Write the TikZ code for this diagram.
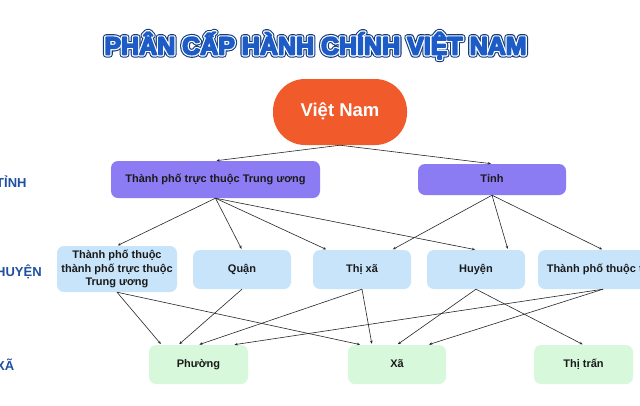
\documentclass[tikz,border=0pt]{standalone}
\usepackage{fontspec}
\setmainfont{Liberation Sans}
\usetikzlibrary{arrows.meta}
\definecolor{vnorange}{HTML}{F15A2B}
\definecolor{vnpurple}{HTML}{8C7CF3}
\definecolor{vnsky}{HTML}{C8E4FA}
\definecolor{vnmint}{HTML}{D8F8DB}
\definecolor{vnblue}{HTML}{1D5CC6}
\definecolor{vnnavy}{HTML}{133C7E}
\definecolor{vnlabel}{HTML}{1F4FA0}
\definecolor{vnink}{HTML}{1A1A1A}
% text with a stroked outline (render mode 2)
\newcommand\outlined[3]{\special{pdf:literal direct #1 w 1 j #2 RG 2 Tr}#3\special{pdf:literal direct 0 Tr}}
\newcommand\titletext{PHÂN CẤP HÀNH CHÍNH VIỆT NAM}

\begin{document}
\begin{tikzpicture}[x=1pt,y=-1pt,>={Stealth[length=3.2pt,width=2.6pt]}]
  \tikzset{
    box/.style={rectangle,rounded corners=7pt,inner sep=0pt,text=vnink,
      font=\bfseries\fontsize{11}{13.5}\selectfont},
    oneline/.style={box,text height=8pt,text depth=2.4pt},
    lvl/.style={anchor=base west,inner sep=0pt,text=vnlabel,
      font=\bfseries\fontsize{13}{15}\selectfont},
    title/.style={anchor=base,inner sep=0pt,font=\bfseries\fontsize{25}{30}\selectfont},
    link/.style={->,line width=0.6pt,draw=black!85,shorten >=1pt}
  }
  \fill[white] (0,0) rectangle (640,405);
  \useasboundingbox (0,0) rectangle (640,405);

  % title
  \node[title,text=vnnavy] (titleback) at (315.5,54.5) {\outlined{6.2}{0.075 0.235 0.494}{\titletext}};
  \node[title,text=white] (titlering) at (315.5,54.5) {\outlined{4}{1 1 1}{\titletext}};
  \node[title,text=vnblue] (title) at (315.5,54.5) {\outlined{1.6}{0.114 0.361 0.776}{\titletext}};

  % levels
  \node[lvl] (lvltinh) at (-4,187) {TỈNH};
  \node[lvl] (lvlhuyen) at (-4,276) {HUYỆN};
  \node[lvl] (lvlxa) at (-4,370) {XÃ};

  % nodes
  \node[rectangle,rounded corners=32pt,fill=vnorange,text=white,minimum width=134pt,minimum height=66pt,
    font=\bfseries\fontsize{18.5}{22}\selectfont,text height=13pt,text depth=3.5pt] (viet) at (340,112) {Việt Nam};

  \node[oneline,fill=vnpurple,minimum width=209pt,minimum height=37pt] (tptw) at (215.5,179.5) {Thành phố trực thuộc Trung ương};
  \node[oneline,fill=vnpurple,minimum width=148pt,minimum height=31pt] (tinh) at (492,179.5) {Tỉnh};

  \node[box,fill=vnsky,minimum width=120pt,minimum height=46pt,align=center] (tpthuoctp) at (117,269) {Thành phố thuộc\\thành phố trực thuộc\\Trung ương};
  \node[oneline,fill=vnsky,minimum width=98pt,minimum height=39pt] (quan) at (242,269.5) {Quận};
  \node[oneline,fill=vnsky,minimum width=98pt,minimum height=39pt] (thixa) at (362,269.5) {Thị xã};
  \node[oneline,fill=vnsky,minimum width=98pt,minimum height=39pt] (huyen) at (476,269.5) {Huyện};
  \node[oneline,fill=vnsky,minimum width=130pt,minimum height=39pt] (tpthuoctinh) at (603,269.5) {Thành phố thuộc tỉnh};

  \node[oneline,fill=vnmint,minimum width=99pt,minimum height=39pt] (phuong) at (198.5,364.5) {Phường};
  \node[oneline,fill=vnmint,minimum width=98pt,minimum height=39pt] (xa) at (397,364.5) {Xã};
  \node[oneline,fill=vnmint,minimum width=99pt,minimum height=39pt] (thitran) at (583.5,364.5) {Thị trấn};

  % links
  \draw[link] (viet.south) -- (tptw.north);
  \draw[link] (viet.south) -- (tinh.north);

  \draw[link] (tptw.south) -- (tpthuoctp.north);
  \draw[link] (tptw.south) -- (quan.north);
  \draw[link] (tptw.south) -- ([xshift=-35pt]thixa.north);
  \draw[link] (tptw.south) -- (huyen.north);
  \draw[link] (tinh.south) -- ([xshift=30pt]thixa.north);
  \draw[link] (tinh.south) -- ([xshift=32pt]huyen.north);
  \draw[link] (tinh.south) -- (tpthuoctinh.north);

  \draw[link] (tpthuoctp.south) -- ([xshift=-37pt]phuong.north);
  \draw[link] (tpthuoctp.south) -- ([xshift=-36pt]xa.north);
  \draw[link] (quan.south) -- ([xshift=-20pt]phuong.north);
  \draw[link] (thixa.south) -- (phuong.north);
  \draw[link] (thixa.south) -- ([xshift=-25pt]xa.north);
  \draw[link] (huyen.south) -- (xa.north);
  \draw[link] (huyen.south) -- (thitran.north);
  \draw[link] (tpthuoctinh.south) -- ([xshift=35pt]phuong.north);
  \draw[link] (tpthuoctinh.south) -- ([xshift=31pt]xa.north);
\end{tikzpicture}
\end{document}
